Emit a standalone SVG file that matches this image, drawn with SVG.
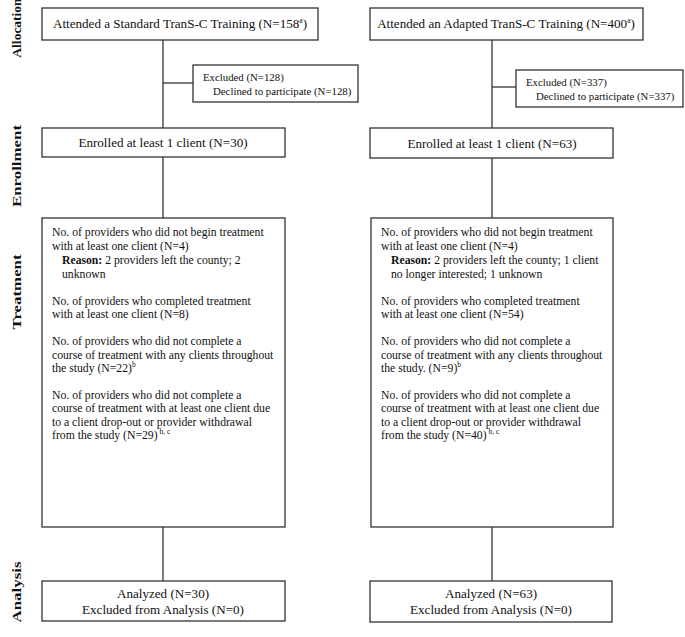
<svg xmlns="http://www.w3.org/2000/svg" width="685" height="637" viewBox="0 0 685 637">
<style>
.box{fill:#fff;stroke:#333;stroke-width:1.3}
.ln{stroke:#333;stroke-width:1.3;fill:none}
text{font-family:"Liberation Serif","Times New Roman",serif;fill:#111}
.t14{font-size:13.1px}
.t13{font-size:11.7px}
.t11{font-size:10.8px}
.side{font-size:13.5px;font-weight:bold}
.sup{font-size:7.5px}
.b{font-weight:bold}
</style>
<rect width="685" height="637" fill="#fff"/>
<g id="labels">
<text class="side" transform="translate(21,28) rotate(-90)" text-anchor="middle">Allocation</text>
<text class="side" transform="translate(21,166) rotate(-90) scale(1.25,1)" text-anchor="middle">Enrollment</text>
<text class="side" transform="translate(21,292) rotate(-90) scale(1.25,1)" text-anchor="middle">Treatment</text>
<text class="side" transform="translate(21,592) rotate(-90) scale(1.25,1)" text-anchor="middle">Analysis</text>
</g>
<g id="connectors">
<line class="ln" x1="163" y1="40" x2="163" y2="128"/>
<line class="ln" x1="163" y1="83" x2="193" y2="83"/>
<line class="ln" x1="163" y1="157" x2="163" y2="218"/>
<line class="ln" x1="163" y1="527" x2="163" y2="581"/>
<line class="ln" x1="492" y1="40" x2="492" y2="128"/>
<line class="ln" x1="492" y1="87" x2="516" y2="87"/>
<line class="ln" x1="492" y1="158" x2="492" y2="218"/>
<line class="ln" x1="492" y1="527" x2="492" y2="581"/>
</g>
<g id="left-top">
<rect class="box" x="42" y="8" width="276" height="32"/>
<text class="t14" x="180" y="28" text-anchor="middle">Attended a Standard TranS-C Training (N=158<tspan class="sup" dy="-5">a</tspan><tspan dy="5">)</tspan></text>
</g>
<g id="left-excluded">
<rect class="box" x="193" y="65" width="165" height="37"/>
<text class="t11" x="203" y="81">Excluded (N=128)</text>
<text class="t11" x="213" y="95">Declined to participate (N=128)</text>
</g>
<g id="left-enrolled">
<rect class="box" x="42" y="128" width="243" height="29"/>
<text class="t14" x="163" y="147" text-anchor="middle">Enrolled at least 1 client (N=30)</text>
</g>
<g id="left-treatment">
<rect class="box" x="42" y="218" width="243" height="309"/>
<text class="t13" x="52" y="236">No. of providers who did not begin treatment</text>
<text class="t13" x="52" y="250">with at least one client (N=4)</text>
<text class="t13" x="62" y="264"><tspan class="b">Reason:</tspan> 2 providers left the county; 2</text>
<text class="t13" x="62" y="278">unknown</text>
<text class="t13" x="52" y="305">No. of providers who completed treatment</text>
<text class="t13" x="52" y="318">with at least one client (N=8)</text>
<text class="t13" x="52" y="345">No. of providers who did not complete a</text>
<text class="t13" x="52" y="359">course of treatment with any clients throughout</text>
<text class="t13" x="52" y="372">the study (N=22)<tspan class="sup" dy="-5">b</tspan></text>
<text class="t13" x="52" y="399">No. of providers who did not complete a</text>
<text class="t13" x="52" y="412">course of treatment with at least one client due</text>
<text class="t13" x="52" y="426">to a client drop-out or provider withdrawal</text>
<text class="t13" x="52" y="439">from the study (N=29)<tspan class="sup" dy="-5"> b, c</tspan></text>
</g>
<g id="left-analysis">
<rect class="box" x="42" y="581" width="243" height="40"/>
<text class="t14" x="163" y="598" text-anchor="middle">Analyzed (N=30)</text>
<text class="t14" x="163" y="614" text-anchor="middle">Excluded from Analysis (N=0)</text>
</g>
<g id="right-top">
<rect class="box" x="370" y="8" width="273" height="32"/>
<text class="t14" x="506" y="28" text-anchor="middle">Attended an Adapted TranS-C Training (N=400<tspan class="sup" dy="-5">a</tspan><tspan dy="5">)</tspan></text>
</g>
<g id="right-excluded">
<rect class="box" x="516" y="70" width="167" height="37"/>
<text class="t11" x="526" y="86">Excluded (N=337)</text>
<text class="t11" x="536" y="100">Declined to participate (N=337)</text>
</g>
<g id="right-enrolled">
<rect class="box" x="370" y="128" width="243" height="30"/>
<text class="t14" x="492" y="148" text-anchor="middle">Enrolled at least 1 client (N=63)</text>
</g>
<g id="right-treatment">
<rect class="box" x="371" y="218" width="242" height="309"/>
<text class="t13" x="381" y="236">No. of providers who did not begin treatment</text>
<text class="t13" x="381" y="250">with at least one client (N=4)</text>
<text class="t13" x="391" y="264"><tspan class="b">Reason:</tspan> 2 providers left the county; 1 client</text>
<text class="t13" x="391" y="278">no longer interested; 1 unknown</text>
<text class="t13" x="381" y="305">No. of providers who completed treatment</text>
<text class="t13" x="381" y="318">with at least one client (N=54)</text>
<text class="t13" x="381" y="345">No. of providers who did not complete a</text>
<text class="t13" x="381" y="359">course of treatment with any clients throughout</text>
<text class="t13" x="381" y="372">the study. (N=9)<tspan class="sup" dy="-5">b</tspan></text>
<text class="t13" x="381" y="399">No. of providers who did not complete a</text>
<text class="t13" x="381" y="412">course of treatment with at least one client due</text>
<text class="t13" x="381" y="426">to a client drop-out or provider withdrawal</text>
<text class="t13" x="381" y="439">from the study (N=40)<tspan class="sup" dy="-5"> b, c</tspan></text>
</g>
<g id="right-analysis">
<rect class="box" x="370" y="581" width="242" height="41"/>
<text class="t14" x="491" y="598" text-anchor="middle">Analyzed (N=63)</text>
<text class="t14" x="491" y="614" text-anchor="middle">Excluded from Analysis (N=0)</text>
</g>
</svg>
